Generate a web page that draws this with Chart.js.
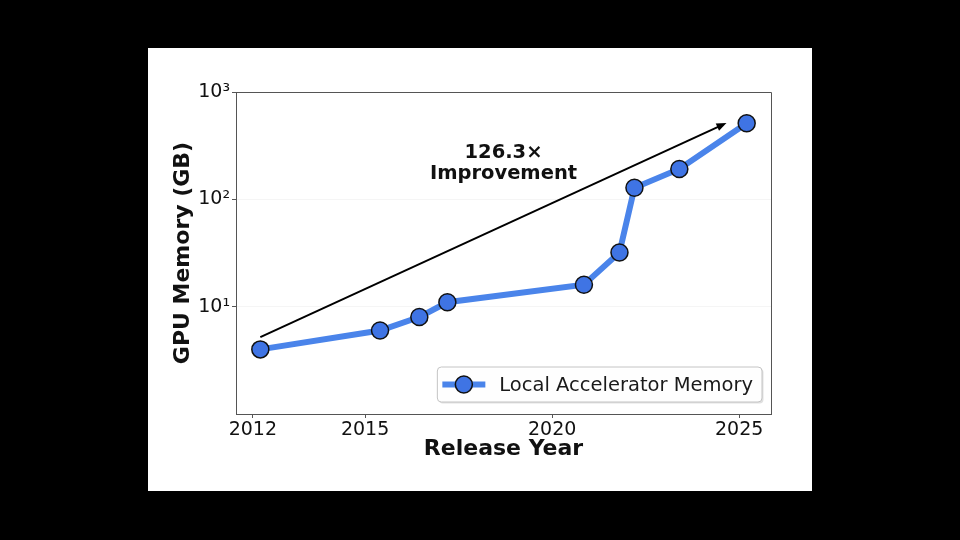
<!DOCTYPE html>
<html>
<head>
<meta charset="utf-8">
<title>GPU Memory</title>
<script src="https://cdn.jsdelivr.net/npm/chart.js@4.4.1/dist/chart.umd.min.js"></script>
<style>
    html, body { margin: 0; padding: 0; background: #000; width: 960px; height: 540px; overflow: hidden; }
    #panel { position: absolute; left: 148px; top: 48px; width: 664px; height: 443px; background: #fff; }
</style>
</head>
<body>
<div id="panel"><canvas id="memChart"></canvas></div>
<script>
// Values
const releaseYears = [2012.2, 2015.4, 2016.45, 2017.2, 2020.85, 2021.8, 2022.2, 2023.4, 2025.2];
const memoryGB = [4, 6, 8, 11, 16, 32, 128, 192, 512];
const seriesLabel = 'Local Accelerator Memory';

const xTickYears = [2012, 2015, 2020, 2025];
const yTickValues = [10, 100, 1000];
const yTickLabels = ['10¹', '10²', '10³'];

// Trend arrow + note (data coordinates)
const arrowFrom = [2012.2, 5.2];
const arrowTo = [2024.66, 514];
const noteLines = ['126.3×', 'Improvement'];
const noteAnchor = [2018.7, 215];

const FONT = '"DejaVu Sans", "Liberation Sans", sans-serif';
const LINE_BLUE = '#4a84ea';
const MARKER_BLUE = '#3f74e4';
const SPINE = '#555';

// matplotlib-like 5% margin on x
const span = Math.max(...releaseYears) - Math.min(...releaseYears);
const xMin = Math.min(...releaseYears) - 0.05 * span;
const xMax = Math.max(...releaseYears) + 0.05 * span;

const points = releaseYears.map((yr, i) => ({ x: yr, y: memoryGB[i] }));

function roundRect(ctx, x, y, w, h, r) {
    ctx.beginPath();
    ctx.moveTo(x + r, y);
    ctx.lineTo(x + w - r, y);
    ctx.quadraticCurveTo(x + w, y, x + w, y + r);
    ctx.lineTo(x + w, y + h - r);
    ctx.quadraticCurveTo(x + w, y + h, x + w - r, y + h);
    ctx.lineTo(x + r, y + h);
    ctx.quadraticCurveTo(x, y + h, x, y + h - r);
    ctx.lineTo(x, y + r);
    ctx.quadraticCurveTo(x, y, x + r, y);
    ctx.closePath();
}

const overlay = {
    id: 'overlay',
    afterDatasetsDraw(chart) {
        const { ctx, scales: { x, y } } = chart;
        const x0 = x.getPixelForValue(arrowFrom[0]);
        const y0 = y.getPixelForValue(arrowFrom[1]);
        const x1 = x.getPixelForValue(arrowTo[0]);
        const y1 = y.getPixelForValue(arrowTo[1]);
        const ang = Math.atan2(y1 - y0, x1 - x0);
        const headLen = 10, headHalf = 4;

        ctx.save();
        ctx.strokeStyle = '#000';
        ctx.fillStyle = '#000';
        ctx.lineWidth = 2;
        ctx.beginPath();
        ctx.moveTo(x0, y0);
        ctx.lineTo(x1 - Math.cos(ang) * headLen * 0.8, y1 - Math.sin(ang) * headLen * 0.8);
        ctx.stroke();
        ctx.translate(x1, y1);
        ctx.rotate(ang);
        ctx.beginPath();
        ctx.moveTo(0, 0);
        ctx.lineTo(-headLen, -headHalf);
        ctx.lineTo(-headLen, headHalf);
        ctx.closePath();
        ctx.fill();
        ctx.restore();

        // note text
        const nx = x.getPixelForValue(noteAnchor[0]);
        const ny = y.getPixelForValue(noteAnchor[1]);
        ctx.save();
        ctx.font = 'bold 19.5px ' + FONT;
        ctx.fillStyle = '#111';
        ctx.textAlign = 'center';
        ctx.textBaseline = 'middle';
        ctx.fillText(noteLines[0], nx, ny - 10.5);
        ctx.fillText(noteLines[1], nx, ny + 10.5);
        ctx.restore();
    },
    afterDraw(chart) {
        const { ctx, chartArea: ca } = chart;

        // top and right spines
        ctx.save();
        ctx.strokeStyle = SPINE;
        ctx.lineWidth = 1;
        ctx.beginPath();
        ctx.moveTo(Math.round(ca.left) + 0.5, Math.round(ca.top) + 0.5);
        ctx.lineTo(Math.round(ca.right) + 0.5, Math.round(ca.top) + 0.5);
        ctx.lineTo(Math.round(ca.right) + 0.5, Math.round(ca.bottom) + 0.5);
        ctx.stroke();
        ctx.restore();

        // legend box
        ctx.save();
        ctx.font = '19.5px ' + FONT;
        const tw = ctx.measureText(seriesLabel).width;
        const boxW = 5 + 43 + 14 + tw + 9;
        const boxH = 35;
        const bx = ca.right - 9 - boxW;
        const by = ca.bottom - 12 - boxH;

        ctx.fillStyle = 'rgba(0,0,0,0.12)';
        roundRect(ctx, bx + 1.5, by + 1.5, boxW, boxH, 4);
        ctx.fill();
        ctx.fillStyle = 'rgba(255,255,255,0.95)';
        ctx.strokeStyle = '#c4c4c4';
        ctx.lineWidth = 1;
        roundRect(ctx, bx, by, boxW, boxH, 4);
        ctx.fill();
        ctx.stroke();

        const cy = by + boxH / 2;
        ctx.strokeStyle = LINE_BLUE;
        ctx.lineWidth = 6;
        ctx.beginPath();
        ctx.moveTo(bx + 5, cy);
        ctx.lineTo(bx + 48, cy);
        ctx.stroke();
        ctx.beginPath();
        ctx.arc(bx + 26.5, cy, 8.5, 0, Math.PI * 2);
        ctx.fillStyle = MARKER_BLUE;
        ctx.fill();
        ctx.lineWidth = 1.5;
        ctx.strokeStyle = '#111';
        ctx.stroke();

        ctx.fillStyle = '#1a1a1a';
        ctx.textAlign = 'left';
        ctx.textBaseline = 'middle';
        ctx.fillText(seriesLabel, bx + 62, cy + 1);
        ctx.restore();
    }
};

const chart = new Chart(document.getElementById('memChart'), {
    type: 'scatter',
    data: {
        datasets: [{
            label: seriesLabel,
            data: points,
            showLine: true,
            borderColor: LINE_BLUE,
            borderWidth: 6,
            pointRadius: 8.5,
            pointBackgroundColor: MARKER_BLUE,
            pointBorderColor: '#111',
            pointBorderWidth: 1.5,
            clip: false
        }]
    },
    options: {
        responsive: true,
        maintainAspectRatio: false,
        animation: false,
        layout: { padding: { top: 44, right: 41, left: 0, bottom: 0 } },
        plugins: {
            legend: { display: false },
            tooltip: { enabled: false }
        },
        scales: {
            x: {
                type: 'linear',
                min: xMin,
                max: xMax,
                afterBuildTicks: (scale) => { scale.ticks = xTickYears.map(v => ({ value: v })); },
                afterFit: (scale) => { scale.height = 77; },
                ticks: {
                    color: '#111',
                    font: { family: FONT, size: 19 },
                    padding: 1,
                    maxRotation: 0,
                    callback: (v) => String(v)
                },
                grid: { drawOnChartArea: false, tickLength: 4, tickColor: SPINE, tickWidth: 1 },
                border: { color: SPINE, width: 1 },
                title: {
                    display: true,
                    text: 'Release Year',
                    color: '#111',
                    font: { family: FONT, size: 22, weight: 'bold' },
                    padding: { top: 0, bottom: 29 }
                }
            },
            y: {
                type: 'logarithmic',
                min: 1,
                max: 1000,
                afterBuildTicks: (scale) => { scale.ticks = yTickValues.map(v => ({ value: v })); },
                afterFit: (scale) => { scale.width = 88; },
                ticks: {
                    color: '#111',
                    font: { family: FONT, size: 19 },
                    padding: 2,
                    callback: (v) => {
                        const i = yTickValues.indexOf(v);
                        return i >= 0 ? yTickLabels[i] : '';
                    }
                },
                grid: { color: 'rgba(0,0,0,0.04)', tickLength: 4, tickColor: SPINE, tickWidth: 1 },
                border: { color: SPINE, width: 1 },
                title: {
                    display: true,
                    text: 'GPU Memory (GB)',
                    color: '#111',
                    font: { family: FONT, size: 22, weight: 'bold' },
                    padding: { top: 22, bottom: 0 }
                }
            }
        }
    },
    plugins: [overlay]
});
</script>
</body>
</html>
